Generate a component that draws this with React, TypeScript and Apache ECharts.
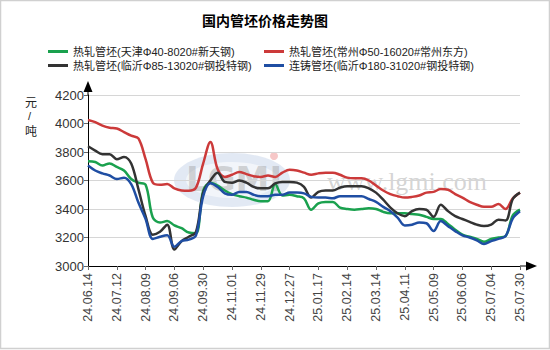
import React, { useEffect, useRef } from "react";
import * as echarts from "echarts";

const dates = [
  "24.06.14", "24.06.21", "24.06.28", "24.07.05", "24.07.12", "24.07.19", "24.07.26", "24.08.02",
  "24.08.09", "24.08.16", "24.08.23", "24.08.30", "24.09.06", "24.09.13", "24.09.20", "24.09.27",
  "24.09.30", "24.10.11", "24.10.18", "24.10.25", "24.11.01", "24.11.08", "24.11.15", "24.11.22",
  "24.11.29", "24.12.06", "24.12.13", "24.12.20", "24.12.27", "24.12.31", "25.01.03", "25.01.10",
  "25.01.17", "25.01.24", "25.01.27", "25.02.07", "25.02.14", "25.02.21", "25.02.28", "25.03.07",
  "25.03.14", "25.03.21", "25.03.28", "25.04.03", "25.04.11", "25.04.18", "25.04.25", "25.04.30",
  "25.05.09", "25.05.16", "25.05.23", "25.05.30", "25.06.06", "25.06.13", "25.06.20", "25.06.27",
  "25.07.04", "25.07.11", "25.07.18", "25.07.25", "25.07.30",
];

const tianjin = [
  3735, 3730, 3705, 3720, 3695, 3670, 3610, 3585, 3570, 3340,
  3305, 3315, 3285, 3265, 3235, 3230, 3530, 3585, 3565, 3530,
  3505, 3490, 3480, 3465, 3455, 3455, 3575, 3495, 3500, 3490,
  3475, 3395, 3440, 3450, 3450, 3410, 3400, 3395, 3400, 3405,
  3400, 3380, 3370, 3370, 3370, 3365, 3360, 3345, 3330, 3330,
  3295, 3255, 3220, 3205, 3190, 3170, 3190, 3200, 3210, 3355,
  3395,
];

const changzhou = [
  4025, 4010, 3985, 3970, 3965, 3940, 3915, 3895, 3750, 3585,
  3570, 3575, 3545, 3530, 3528, 3550, 3720, 3870, 3680, 3625,
  3640, 3660, 3645, 3630, 3625, 3635, 3625, 3655, 3675, 3670,
  3655, 3640, 3650, 3655, 3655, 3640, 3620, 3615, 3615, 3600,
  3565, 3530, 3505, 3490, 3480, 3485, 3495, 3515, 3520, 3540,
  3535, 3505, 3480, 3450, 3430, 3415, 3415, 3435, 3400, 3475,
  3515,
];

const linyiHot = [
  3840, 3810, 3785, 3785, 3750, 3765, 3720, 3540, 3350, 3220,
  3240, 3290, 3115, 3175, 3205, 3240, 3515, 3600, 3655, 3590,
  3585, 3600, 3585, 3555, 3545, 3545, 3580, 3590, 3590, 3585,
  3555, 3480, 3520, 3530, 3530, 3550, 3560, 3560, 3560, 3545,
  3515, 3465, 3410, 3370, 3350, 3385, 3400, 3395, 3345, 3430,
  3385, 3350, 3330, 3310, 3290, 3280, 3290, 3325, 3320, 3470,
  3515,
];

const linyiCast = [
  3705, 3670, 3650, 3635, 3610, 3620, 3575, 3445, 3330, 3190,
  3205, 3215, 3135, 3175, 3185, 3215, 3490, 3580, 3555, 3510,
  3500, 3520, 3520, 3500, 3490, 3490, 3500, 3500, 3515, 3515,
  3510, 3485, 3480, 3480, 3475, 3490, 3490, 3490, 3490, 3470,
  3450, 3415, 3385, 3340, 3285, 3290, 3305, 3300, 3245, 3315,
  3280, 3245, 3215, 3200, 3180, 3155, 3175, 3190, 3210, 3335,
  3385,
];

const seriesNames = [
  "热轧管坯(天津Φ40-8020#新天钢)",
  "热轧管坯(常州Φ50-16020#常州东方)",
  "热轧管坯(临沂Φ85-13020#钢投特钢)",
  "连铸管坯(临沂Φ180-31020#钢投特钢)",
];
const seriesColors = ["#1aa14e", "#cc3a3a", "#333333", "#1f4ea3"];
const seriesData = [tianjin, changzhou, linyiHot, linyiCast];

const yMin = 3000;
const yMax = 4200;
const yStep = 200;

const LATIN = "Liberation Sans, Arial, Noto Sans CJK SC, sans-serif";
const CJK = "Noto Sans CJK SC, sans-serif";

export default function App() {
  const ref = useRef<HTMLDivElement>(null);

  useEffect(() => {
    if (!ref.current) return;
    const chart = echarts.init(ref.current, null, { renderer: "svg" });

    const legendText = { fontSize: 11, color: "#222", fontFamily: LATIN, lineHeight: 11 };

    chart.setOption({
      animation: false,
      backgroundColor: "#ffffff",
      title: {
        text: "国内管坯价格走势图",
        left: 197,
        top: 8,
        textStyle: {
          fontSize: 14,
          fontWeight: "bold",
          color: "#000",
          fontFamily: CJK,
        },
      },
      legend: [
        {
          data: [seriesNames[0], seriesNames[2]],
          orient: "vertical",
          left: 43,
          top: 41,
          itemGap: 3,
          itemWidth: 20,
          itemHeight: 3,
          icon: "rect",
          textStyle: legendText,
        },
        {
          data: [seriesNames[1], seriesNames[3]],
          orient: "vertical",
          left: 259,
          top: 41,
          itemGap: 3,
          itemWidth: 20,
          itemHeight: 3,
          icon: "rect",
          textStyle: legendText,
        },
      ],
      grid: { left: 88, right: 30, top: 95, bottom: 84 },
      xAxis: {
        type: "category",
        data: dates,
        boundaryGap: false,
        axisLine: { lineStyle: { color: "#000", width: 1 } },
        axisTick: { interval: 3, length: 4, lineStyle: { color: "#666" } },
        axisLabel: {
          interval: 3,
          rotate: 90,
          margin: 7,
          fontSize: 12.5,
          color: "#444",
          fontFamily: LATIN,
        },
        splitLine: { show: false },
      },
      yAxis: {
        type: "value",
        min: yMin,
        max: yMax,
        interval: yStep,
        axisLine: { show: true, lineStyle: { color: "#000", width: 1 } },
        axisTick: { show: true, length: 4, lineStyle: { color: "#666" } },
        axisLabel: {
          fontSize: 13,
          color: "#333",
          margin: 4,
          fontFamily: LATIN,
          formatter: (v: number) => String(v),
        },
        splitLine: { lineStyle: { color: "#d6d6d6", width: 1 } },
      },
      graphic: [
        {
          type: "rect",
          z: -10,
          shape: { x: 0.5, y: 0.5, width: 549, height: 348 },
          style: { fill: "none", stroke: "#d0d0d0", lineWidth: 1.5 },
        },
        {
          type: "ellipse",
          z: -5,
          shape: { cx: 232, cy: 180, rx: 58, ry: 27 },
          style: { fill: "rgba(150,175,215,0.28)" },
        },
        {
          type: "ellipse",
          z: -5,
          shape: { cx: 232, cy: 180, rx: 46, ry: 18 },
          style: { fill: "rgba(255,255,255,0.55)" },
        },
        {
          type: "circle",
          z: -5,
          shape: { cx: 274, cy: 156, r: 4 },
          style: { fill: "rgba(235,130,130,0.45)" },
        },
        {
          type: "text",
          z: -5,
          x: 186,
          y: 162,
          style: {
            text: "LGMI",
            fontSize: 34,
            fontWeight: "bold",
            fontFamily: "DejaVu Sans, sans-serif",
            fill: "rgba(150,150,150,0.4)",
          },
        },
        {
          type: "text",
          z: -5,
          x: 327,
          y: 168,
          style: {
            text: "www.lgmi.com",
            fontSize: 26,
            fontFamily: "Liberation Serif, DejaVu Serif, serif",
            fill: "rgba(160,160,160,0.45)",
          },
        },
        {
          type: "text",
          x: 25,
          y: 95,
          style: { text: "元", fontSize: 12, fill: "#222", fontFamily: CJK },
        },
        {
          type: "text",
          x: 28,
          y: 110,
          style: { text: "/", fontSize: 11, fill: "#222", fontFamily: LATIN },
        },
        {
          type: "text",
          x: 25,
          y: 124,
          style: { text: "吨", fontSize: 12, fill: "#222", fontFamily: CJK },
        },
        {
          type: "line",
          shape: { x1: 88, y1: 95, x2: 88, y2: 88 },
          style: { stroke: "#000", lineWidth: 1 },
        },
        {
          type: "polygon",
          shape: { points: [[83.5, 92], [92.5, 92], [88, 81]] },
          style: { fill: "#000" },
        },
        {
          type: "line",
          shape: { x1: 520, y1: 266, x2: 528, y2: 266 },
          style: { stroke: "#000", lineWidth: 1 },
        },
        {
          type: "polygon",
          shape: { points: [[526, 261.5], [526, 270.5], [537, 266]] },
          style: { fill: "#000" },
        },
      ],
      series: seriesNames.map((name, i) => ({
        name,
        type: "line",
        data: seriesData[i],
        smooth: 0.35,
        showSymbol: false,
        symbol: "none",
        lineStyle: { color: seriesColors[i], width: 2.5 },
        itemStyle: { color: seriesColors[i] },
        z: 3,
      })),
    });

    return () => {
      chart.dispose();
    };
  }, []);

  return (
    <div
      ref={ref}
      style={{ width: 550, height: 350, position: "absolute", left: 0, top: 0 }}
    />
  );
}
